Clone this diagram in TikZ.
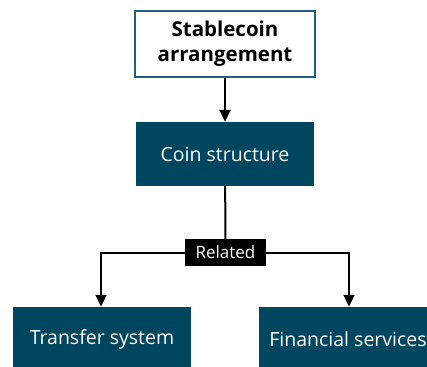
\documentclass[tikz,border=0pt]{standalone}
\usepackage{fontspec}
\setmainfont{Open Sans}
\usetikzlibrary{arrows.meta,positioning}
\definecolor{coinblue}{HTML}{01465F}
\definecolor{frameblue}{HTML}{1F5F7F}
\tikzset{
  solidbox/.style = {rectangle, fill=coinblue, text=white, minimum width=178, minimum height=64, inner sep=0pt, font=\fontsize{19.5}{23}\selectfont},
  framebox/.style = {rectangle, draw=frameblue, line width=1.8pt, fill=white, minimum width=180, minimum height=66, inner sep=0pt, align=center, font=\bfseries\fontsize{20.5}{25}\selectfont},
  tag/.style      = {rectangle, fill=black, text=white, minimum width=81, minimum height=27, inner sep=0pt, font=\fontsize{17}{20}\selectfont},
  link/.style     = {line width=2pt, -{Triangle[width=11pt,length=12pt]}},
  plain/.style    = {line width=2pt}
}
\begin{document}
\begin{tikzpicture}[x=1pt,y=-1pt]
	\useasboundingbox (0,0) rectangle (427,366);
	\clip (0,0) rectangle (427,366);

	\node[framebox] (arrangement) at (225,44) {Stablecoin\\arrangement};
	\node[solidbox] (coin) at (225,154) {Coin structure};
	\node[tag] (related) at (225.5,252.5) {Related};
	\node[solidbox] (transfer) at (102,339) {Transfer system};
	\node[solidbox] (services) at (348,339) {Financial services};

	\draw[link] (arrangement) -- (coin);
	\draw[plain] (coin) -- (related);
	\draw[link] (related.west) -| (transfer.north -| 101,0);
	\draw[link] (related.east) -| (services.north -| 349,0);
\end{tikzpicture}
\end{document}
